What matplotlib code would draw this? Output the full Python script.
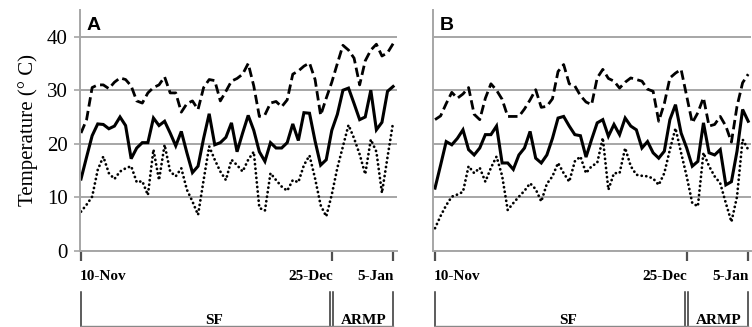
import matplotlib
matplotlib.use("Agg")
import matplotlib.pyplot as plt
import matplotlib.transforms as mtransforms
import numpy as np

# ---------------- data ----------------
days = list(range(57))  # 10-Nov ... 5-Jan

a_max = [22, 24.5, 30.5, 31, 31, 30.3, 31.5, 32.3, 32, 30.8, 28, 27.6, 29.5, 30.5, 31, 32.5,
         29.5, 29.5, 25.9, 27.5, 28, 26.4, 30.5, 32, 31.8, 28, 29.8, 31.7, 32.2, 33, 35,
         30.8, 25.1, 25.4, 27.6, 27.9, 26.9, 28.2, 33, 33.6, 34.5, 35.1, 32, 25.3, 28.5,
         31.5, 35, 38.4, 37.5, 36, 31, 35.5, 37.5, 38.6, 36.4, 37, 38.7]
a_mean = [13.4, 17.5, 21.5, 23.7, 23.6, 22.8, 23.3, 25, 23.4, 17.2, 19.2, 20.2, 20.2, 24.8,
          23.4, 24.2, 22, 19.6, 22.3, 18.3, 14.6, 15.8, 21, 25.6, 19.8, 20.2, 21.2, 23.9,
          18.5, 22, 25.3, 22.5, 18.5, 16.7, 20.2, 19.2, 19.2, 20.2, 23.7, 20.6, 25.8, 25.7,
          20.5, 16, 17, 22.5, 25.5, 30, 30.4, 27.5, 24.5, 25, 30, 22.6, 24, 29.8, 30.7]
a_min = [7.3, 8.6, 10.1, 15.1, 17.6, 14.5, 13.4, 14.8, 15.4, 15.8, 12.8, 13, 10.4, 18.9,
         13.2, 19.8, 14.8, 13.9, 15.4, 11.4, 9.2, 6.7, 13.2, 19.5, 17, 14.8, 13.2, 17, 16,
         14.8, 17, 18.5, 8, 7.5, 14.5, 13.2, 12, 11.2, 13.2, 12.8, 16, 17.8, 13.5, 8.5, 6.4,
         10.5, 15.5, 19.5, 23.5, 21, 18, 14.3, 20.8, 18.5, 10.8, 17.5, 24]

b_max = [24.5, 25.2, 27.5, 29.6, 28.5, 29.3, 30.5, 25.5, 24.5, 28.5, 31.2, 30, 28.3, 25.1,
         25.1, 25.1, 26.5, 28.2, 30.1, 26.8, 27, 28.4, 33.5, 34.8, 31.2, 30.8, 29, 27.8,
         27.3, 32.3, 33.9, 32.2, 31.7, 30.4, 31.5, 32.3, 32, 31.7, 30.2, 29.8, 24.2, 27.5,
         32.3, 33.2, 33.9, 28.9, 23.9, 25.8, 28.6, 23.3, 23.6, 25.1, 23.3, 20.3, 27, 31.4, 33]
b_mean = [11.7, 16, 20.4, 19.8, 21, 22.6, 18.9, 17.9, 19.2, 21.7, 21.7, 23.3, 16.4, 16.4,
          15.2, 17.9, 19.2, 22.3, 17.3, 16.4, 17.9, 21, 24.8, 25.1, 23.3, 21.7, 21.5, 17.5,
          20.8, 23.9, 24.5, 21.4, 23.6, 21.7, 24.8, 23.3, 22.6, 19.2, 20.4, 18.3, 17.3, 18.6,
          24.5, 27.3, 22, 19.2, 15.8, 16.7, 23.9, 18.3, 17.9, 18.9, 12.3, 12.9, 18.6, 26.4, 24.2]
b_min = [4.2, 6.5, 8.5, 10.1, 10.5, 11, 15.8, 14.5, 15.5, 12.9, 15.5, 17.6, 14, 7.6, 8.9,
         10.1, 11.2, 12.6, 11.5, 9.2, 12.5, 13.9, 16.4, 14.5, 12.9, 16.7, 17.6, 14.5, 15.8,
         16.4, 21.1, 11.4, 14.5, 14.5, 19.2, 15.8, 14.2, 14, 13.9, 13.5, 12.3, 14.5, 18.9,
         22.9, 18.3, 13.9, 8.9, 8.3, 18.3, 15.8, 13.9, 12.6, 8.9, 5.4, 10.1, 20.8, 18.9]

tick_days = [0, 45, 56]
tick_labels = ["10-Nov", "25-Dec", "5-Jan"]
period_labels = ["SF", "ARMP"]
panel_labels = ["A", "B"]
y_ticks = [0, 10, 20, 30, 40]

# ---------------- figure ----------------
SERIF = ["Liberation Serif", "DejaVu Serif"]
fig = plt.figure(figsize=(7.52, 3.27), dpi=100)
fig.patch.set_facecolor("white")

W, H = 752.0, 327.0
ax_bottom_px = 250.7
ax_top_px = 10.0
panels = [
    dict(left=80, right=397, xlim=(-0.18, 56.7), maxs=a_max, means=a_mean, mins=a_min),
    dict(left=433, right=751, xlim=(-0.36, 56.5), maxs=b_max, means=b_mean, mins=b_min),
]

grid_c = "#a6a6a6"
for i, p in enumerate(panels):
    ax = fig.add_axes([p["left"] / W, 1 - ax_bottom_px / H,
                       (p["right"] - p["left"]) / W, (ax_bottom_px - ax_top_px) / H])
    ax.set_xlim(*p["xlim"])
    ax.set_ylim(0, 45)
    for s in ["top", "right"]:
        ax.spines[s].set_visible(False)
    for s in ["left", "bottom"]:
        ax.spines[s].set_color(grid_c)
        ax.spines[s].set_linewidth(1.4)
    ax.set_yticks(y_ticks)
    ax.yaxis.grid(True, color=grid_c, linewidth=1.4)
    ax.set_axisbelow(True)
    if i == 0:
        ax.set_yticklabels([str(v) for v in y_ticks], fontfamily=SERIF, fontsize=15)
        ax.tick_params(axis="y", length=4, width=1.2, color=grid_c, pad=5)
        ax.set_ylabel("Temperature (° C)", fontfamily=SERIF, fontsize=15, labelpad=6)
    else:
        ax.tick_params(axis="y", length=0, labelleft=False)

    ax.set_xticks(tick_days)
    ax.set_xticklabels([])
    ax.tick_params(axis="x", length=7, width=1.6, color="#505050", direction="out")

    ax.plot(days, p["maxs"], color="black", lw=2.0, linestyle=(0, (3.4, 1.6)),
            dash_capstyle="butt", solid_joinstyle="miter")
    ax.plot(days, p["means"], color="black", lw=2.2, solid_joinstyle="miter")
    ax.plot(days, p["mins"], color="black", lw=2.0, linestyle=(0, (0.05, 1.6)),
            dash_capstyle="round")

    ax.text(0.02, 0.97, panel_labels[i], transform=ax.transAxes, fontsize=14,
            fontweight="bold", fontfamily=["Liberation Sans", "DejaVu Sans"],
            ha="left", va="top")

    tr = mtransforms.blended_transform_factory(ax.transData, ax.transAxes)
    h_ax = ax_bottom_px - ax_top_px
    y_lab = -(277 - ax_bottom_px) / h_ax
    y_br_top = -(292 - ax_bottom_px) / h_ax
    y_br_bot = -(326 - ax_bottom_px) / h_ax
    y_per = -(320 - ax_bottom_px) / h_ax

    has = ["left", "right", "right"]
    offs = [-0.3, 0.15, 0.1]
    for d, lab, ha, o in zip(tick_days, tick_labels, has, offs):
        ax.text(d + o, y_lab, lab, transform=tr, ha=ha, va="center",
                fontfamily=SERIF, fontsize=11, fontweight="bold", clip_on=False)

    # period bracket
    lc = "#303030"
    for xv in [tick_days[0], tick_days[1] - 0.28, tick_days[1] + 0.28, tick_days[2]]:
        ax.plot([xv, xv], [y_br_top, y_br_bot], transform=tr, color=lc, lw=1.1,
                clip_on=False)
    ax.plot([tick_days[0], tick_days[2]], [y_br_bot, y_br_bot], transform=tr,
            color="#888888", lw=1.0, clip_on=False)
    ax.text((tick_days[0] + tick_days[1]) / 2 + 1.3, y_per, period_labels[0], transform=tr,
            ha="center", va="center", fontfamily=SERIF, fontsize=11,
            fontweight="bold", clip_on=False)
    ax.text((tick_days[1] + tick_days[2]) / 2 + 0.2, y_per, period_labels[1], transform=tr,
            ha="center", va="center", fontfamily=SERIF, fontsize=11,
            fontweight="bold", clip_on=False)

fig.savefig("out.png", dpi=100, facecolor="white")
